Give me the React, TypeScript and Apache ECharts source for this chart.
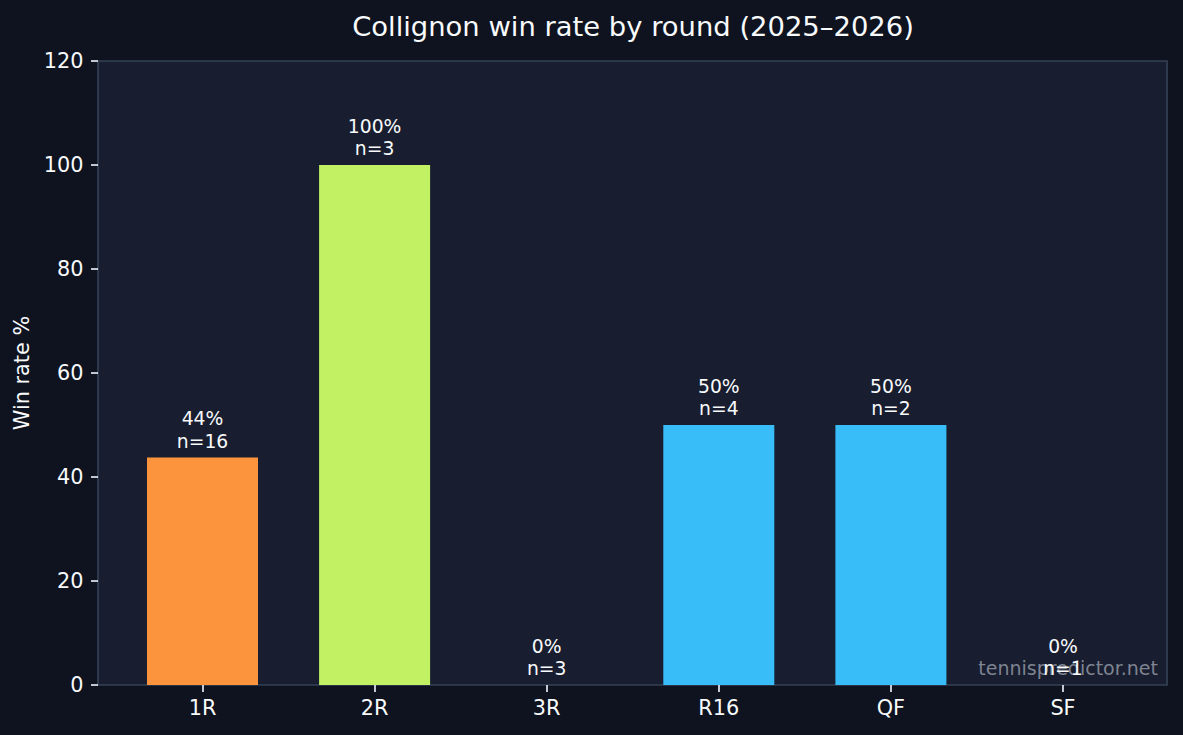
import React, { useEffect, useRef } from "react";
import * as echarts from "echarts";

const categories = ["1R", "2R", "3R", "R16", "QF", "SF"];
const winRates = [43.75, 100, 0, 50, 50, 0];
const sampleSizes = [16, 3, 3, 4, 2, 1];
const barColors = ["#fb943d", "#c2f263", "#f87171", "#38bdf8", "#38bdf8", "#f87171"];
const yTicks = { min: 0, max: 120, interval: 20 };
const titleText = "Collignon win rate by round (2025–2026)";
const yName = "Win rate %";
const watermark = "tennispredictor.net";

const FONT = "DejaVu Sans";

export default function App() {
  const ref = useRef<HTMLDivElement>(null);
  useEffect(() => {
    if (!ref.current) return;
    const chart = echarts.init(ref.current, null, { renderer: "svg" });
    const plotL = 98, plotR = 1167, plotT = 61, plotB = 685;
    const band = 172.1;
    const gridLeft = 202.5 - band / 2;
    const gridRight = 1183 - (gridLeft + band * 6);
    chart.setOption({
      animation: false,
      backgroundColor: "#0e131f",
      title: {
        text: titleText,
        left: 628,
        textAlign: "center",
        top: 8,
        textStyle: { color: "#f8fafc", fontFamily: FONT, fontSize: 27.4, fontWeight: "normal" },
      },
      graphic: [
        {
          type: "rect",
          z: -10,
          shape: { x: plotL, y: plotT, width: plotR - plotL, height: plotB - plotT },
          style: { fill: "#181e2f", stroke: "#334155", lineWidth: 1.7 },
        },
        {
          type: "text",
          z: 1,
          x: 1158,
          y: 668,
          style: {
            text: watermark,
            align: "right",
            verticalAlign: "middle",
            fill: "rgba(160,166,178,0.75)",
            font: `19px '${FONT}'`,
          },
        },
      ],
      grid: { left: gridLeft, right: gridRight, top: plotT, bottom: 735 - plotB },
      xAxis: {
        type: "category",
        data: categories,
        axisLine: { show: false },
        axisTick: { show: true, alignWithLabel: true, length: 7, lineStyle: { color: "#e2e8f0", width: 1.7 } },
        axisLabel: { color: "#f8fafc", fontFamily: FONT, fontSize: 20.8, margin: 12 },
      },
      yAxis: {
        type: "value",
        min: yTicks.min,
        max: yTicks.max,
        interval: yTicks.interval,
        offset: gridLeft - plotL,
        name: yName,
        nameLocation: "middle",
        nameGap: 56,
        nameTextStyle: { color: "#f8fafc", fontFamily: FONT, fontSize: 20.8 },
        splitLine: { show: false },
        axisLine: { show: false },
        axisTick: { show: true, length: 7, lineStyle: { color: "#e2e8f0", width: 1.7 } },
        axisLabel: { color: "#f8fafc", fontFamily: FONT, fontSize: 20.8, margin: 14.5 },
      },
      series: [
        {
          type: "bar",
          barWidth: 111,
          data: winRates.map((v, i) => ({ value: v, itemStyle: { color: barColors[i] } })),
          label: {
            show: true,
            position: "top",
            distance: 5,
            color: "#f8fafc",
            fontFamily: FONT,
            fontSize: 18.75,
            lineHeight: 22.5,
            formatter: (p: any) => `${Math.round(p.value)}%\nn=${sampleSizes[p.dataIndex]}`,
          },
        },
      ],
    });
    return () => chart.dispose();
  }, []);
  return (
    <div
      ref={ref}
      style={{ position: "fixed", left: 0, top: 0, width: 1183, height: 735 }}
    />
  );
}
